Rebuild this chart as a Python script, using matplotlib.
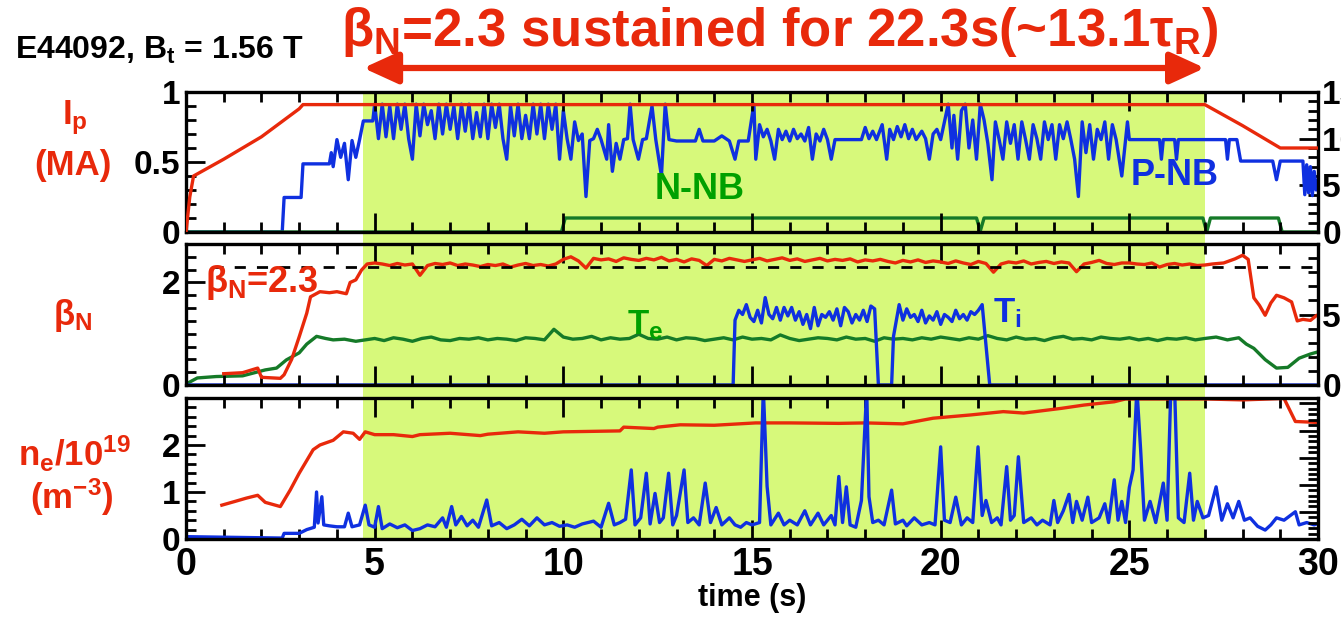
import numpy as np
import matplotlib
matplotlib.use("Agg")
import matplotlib.pyplot as plt
from matplotlib.patches import Rectangle
from matplotlib.transforms import blended_transform_factory
from matplotlib.ticker import MultipleLocator

plt.rcParams['font.family'] = ['Liberation Sans', 'DejaVu Sans']
plt.rcParams['font.weight'] = 'bold'
plt.rcParams['mathtext.fontset'] = 'custom'
for k in ('rm', 'it', 'bf', 'sf'):
    plt.rcParams['mathtext.' + k] = 'Liberation Sans:bold'

RED = '#e8290b'
BLUE = '#0f30e0'
GREEN_LINE = '#157a28'
GREEN_TXT = '#00a000'
SHADE = '#d7f97b'

# ---- panel 1: plasma current (MA) and beam powers (MW) ----
ip_t = [0.0, 0.1, 0.2, 0.6, 1.0, 1.5, 2.0, 2.5, 3.0, 3.1, 27.0, 28.0, 29.0, 30.0]
ip_v = [0.0, 0.25, 0.40, 0.46, 0.52, 0.60, 0.68, 0.78, 0.88, 0.91, 0.91, 0.76, 0.60, 0.60]

pnb_early_t = [0.0, 2.55, 2.6, 3.05, 3.1, 3.8, 3.85, 3.9, 4.0, 4.1, 4.2, 4.3, 4.4, 4.5, 4.6, 4.7, 4.95]
pnb_early_v = [0.0, 0.0, 3.7, 3.7, 7.3, 7.3, 8.5, 7.0, 9.9, 8.0, 9.5, 5.6, 9.8, 8.0, 9.9, 11.9, 11.9]
# 5.0 .. 9.9 s every 0.1 s
pnb_fast = [13.7, 10.0, 13.7, 10.2, 13.5, 10.0, 13.7, 11.0, 13.7, 10.0,
            7.8, 13.7, 10.3, 13.7, 11.5, 13.0, 10.0, 13.7, 10.5, 13.7,
            11.0, 13.5, 10.0, 13.7, 10.8, 13.7, 10.0, 12.8, 10.2, 13.7,
            10.0, 13.7, 11.2, 13.7, 10.0, 7.8, 13.5, 10.3, 13.7, 10.0,
            12.5, 10.0, 13.7, 10.5, 13.7, 10.0, 13.7, 11.0, 13.7, 7.8]
pnb_late_t = [10.0, 10.1, 10.2, 10.3, 10.4, 10.5, 10.6, 10.7, 10.8, 10.9, 11.0, 11.15, 11.2, 11.3,
              11.4, 11.5, 11.6, 11.7, 11.77, 11.85, 11.99, 12.1, 12.2, 12.35, 12.45, 12.6, 12.7,
              12.8, 13.0, 13.5, 13.6, 13.7, 14.0, 14.2, 14.4, 14.55, 14.65, 14.9, 15.05, 15.1,
              15.2, 15.3, 15.4, 15.5, 15.6, 15.7, 15.8, 15.9, 16.0, 16.1, 16.2, 16.3, 16.4, 16.5,
              16.6, 16.7, 16.8, 16.9, 17.0, 17.1, 17.2, 17.9, 18.0, 18.1, 18.2, 18.3, 18.45,
              18.57, 18.65, 18.75, 18.85, 18.95, 19.05, 19.15, 19.25, 19.35, 19.5, 19.6, 19.7,
              19.8, 19.9, 20.0, 20.1, 20.2, 20.3, 20.35, 20.45, 20.55, 20.65, 20.75, 20.85,
              20.95, 21.05, 21.15, 21.25, 21.36, 21.45, 21.55, 21.65, 21.75, 21.85, 21.95,
              22.05, 22.15, 22.25, 22.35, 22.45, 22.55, 22.65, 22.75, 22.85, 22.95, 23.05,
              23.15, 23.25, 23.35, 23.45, 23.55, 23.65, 23.75, 23.85, 23.95, 24.05, 24.15,
              24.25, 24.35, 24.45, 24.55, 24.65, 24.8, 24.95, 25.0, 25.8, 25.85, 25.9, 26.2,
              26.25, 26.3, 27.55, 27.6, 27.65, 27.85, 27.95, 28.8, 28.9, 29.0, 29.6, 29.65,
              29.7, 29.75, 29.8, 29.85, 29.9, 29.95, 30.0]
pnb_late_v = [13.0, 10.0, 7.8, 11.8, 9.8, 10.5, 3.8, 9.8, 10.0, 11.0, 9.9, 7.8, 11.5, 6.5,
              9.5, 7.8, 9.9, 10.0, 13.7, 9.9, 7.8, 9.9, 10.0, 13.5, 9.9, 6.0, 13.7,
              9.9, 9.75, 9.75, 11.0, 9.75, 9.75, 10.3, 9.75, 7.8, 9.75, 9.75, 13.7, 7.8,
              11.5, 10.2, 11.0, 9.75, 7.8, 11.0, 9.9, 10.8, 9.75, 11.0, 10.0, 10.5, 9.75, 11.2,
              7.8, 10.5, 9.75, 11.0, 9.9, 7.8, 9.9, 9.9, 11.2, 10.0, 10.8, 9.9, 11.5,
              7.8, 11.0, 9.9, 11.3, 10.2, 11.5, 10.0, 11.0, 9.9, 10.8, 10.0, 7.8,
              10.5, 11.0, 9.9, 11.8, 13.7, 9.0, 12.5, 7.8, 13.0, 13.7, 9.0, 12.0,
              7.8, 13.7, 12.0, 9.5, 5.6, 11.8, 9.9, 7.8, 11.8, 9.5, 11.5,
              7.8, 11.8, 9.9, 7.8, 11.5, 10.0, 7.8, 11.8, 9.9, 11.5, 7.8,
              11.5, 10.0, 11.8, 9.9, 7.8, 3.8, 11.8, 8.5, 11.5, 7.8, 11.0,
              9.9, 11.8, 7.8, 11.5, 9.9, 6.0, 11.8, 9.9, 9.9, 7.8, 9.9, 9.9,
              7.8, 9.9, 9.9, 7.8, 9.9, 9.9, 7.6, 7.6, 5.6, 7.6, 7.6, 4.0,
              7.2, 4.2, 7.0, 3.9, 6.5, 4.5, 5.5]

nnb_t = [0.0, 9.95, 10.05, 20.95, 21.05, 21.15, 26.95, 27.05, 27.15, 28.95, 29.05, 30.0]
nnb_v = [0.0, 0.0, 1.5, 1.5, 0.1, 1.5, 1.5, 0.0, 1.5, 1.5, 0.0, 0.0]

# ---- panel 2: beta_N and temperatures (keV) ----
bn_early_t = [1.0, 1.5, 1.9, 2.0, 2.5, 2.6, 2.8, 3.0, 3.2, 3.3, 3.55, 3.8, 4.0, 4.25, 4.35,
              4.5, 4.65, 4.8]
bn_early_v = [0.22, 0.24, 0.33, 0.15, 0.13, 0.20, 0.50, 0.94, 1.40, 1.72, 1.82, 1.80, 1.82,
              1.78, 2.00, 2.05, 2.24, 2.36]
# 5.0 .. 27.0 s every 0.2 s
bn_flat = [2.38, 2.36, 2.33, 2.37, 2.34, 2.36, 2.14, 2.33, 2.37, 2.35, 2.38, 2.33, 2.36, 2.34,
           2.31, 2.35, 2.33, 2.36, 2.30, 2.34, 2.37, 2.33, 2.35, 2.32, 2.36,
           2.45, 2.50, 2.42, 2.28, 2.47, 2.44, 2.46, 2.41, 2.48, 2.45, 2.43, 2.47, 2.44, 2.49,
           2.42, 2.45, 2.40, 2.46, 2.43, 2.33, 2.45, 2.42, 2.47, 2.44, 2.41,
           2.44, 2.47, 2.42, 2.45, 2.48, 2.43, 2.46, 2.41, 2.44, 2.47, 2.42, 2.45, 2.43, 2.46,
           2.40, 2.44, 2.42, 2.45, 2.41, 2.38, 2.43, 2.40, 2.44, 2.39, 2.42,
           2.40, 2.37, 2.42, 2.38, 2.35, 2.41, 2.37, 2.20, 2.36, 2.40, 2.38, 2.42, 2.36, 2.39,
           2.41, 2.37, 2.40, 2.38, 2.21, 2.36, 2.39, 2.43, 2.37, 2.35, 2.38,
           2.38, 2.36, 2.35, 2.38, 2.30, 2.35, 2.37, 2.34, 2.36, 2.33, 2.34]
bn_end_t = [27.2, 27.5, 27.8, 28.0, 28.15, 28.3, 28.45, 28.6, 28.75, 28.9, 29.1, 29.3, 29.45,
            29.6, 29.8, 29.95]
bn_end_v = [2.36, 2.38, 2.46, 2.53, 2.45, 1.70, 1.55, 1.36, 1.60, 1.75, 1.70, 1.62, 1.25,
            1.28, 1.26, 1.35]
bn_target = 2.3

te_early_t = [0.05, 0.3, 0.8, 1.5, 2.1, 2.4, 2.66, 3.0, 3.2, 3.46, 3.7, 3.9, 4.2, 4.5]
te_early_v = [0.14, 0.5, 0.6, 0.65, 1.07, 1.2, 1.78, 2.28, 2.9, 3.45, 3.3, 3.2, 3.25, 3.1]
# 4.75 .. 27.0 s every 0.25 s
te_flat = [3.20, 3.30, 3.15, 3.35, 3.25, 3.10, 3.30, 3.40, 3.20, 3.15, 3.30, 3.25, 3.35,
           3.20, 3.30, 3.25, 3.15, 3.35, 3.30, 3.20, 3.95, 3.40, 3.25, 3.30, 3.45, 3.20,
           3.35, 3.25, 3.30, 3.60, 3.30, 3.25, 3.40, 3.20, 3.35, 3.30, 3.15, 3.25, 3.35,
           3.20, 3.40, 3.25, 3.30, 3.20, 3.55, 3.30, 3.15, 3.25, 3.35, 3.30, 3.20, 3.40,
           3.25, 3.30, 3.10, 3.35, 3.25, 3.30, 3.20, 3.35, 3.25, 3.40, 3.30, 3.20, 3.35,
           3.25, 3.50, 3.30, 3.20, 3.40, 3.25, 3.30, 3.15, 3.35, 3.45, 3.25, 3.30, 3.20,
           3.40, 3.30, 3.25, 3.35, 3.20, 3.30, 3.15, 3.30, 3.25, 3.35, 3.20, 3.30]
te_end_t = [27.3, 27.6, 27.9, 28.1, 28.3, 28.6, 28.9, 29.2, 29.5, 29.8, 30.0]
te_end_v = [3.4, 3.2, 3.35, 2.9, 2.6, 1.8, 1.2, 1.25, 1.9, 2.2, 2.35]

# Ti: 14.55 .. 18.25 s every 0.1 s, then 19.0 .. 21.1 s every 0.1 s
ti_a = [4.6, 5.3, 5.0, 5.7, 4.8, 4.5, 5.3, 4.4, 6.2, 5.0, 4.7, 5.5, 4.6, 5.5, 4.9, 5.5,
        4.6, 5.2, 4.3, 5.0, 4.0, 5.5, 4.2, 5.0, 4.8, 5.2, 4.6, 5.4, 4.2, 5.5, 5.2, 4.4,
        5.0, 4.6, 5.3, 4.5, 5.6, 5.4]
ti_b = [4.6, 5.4, 4.8, 5.0, 4.5, 5.3, 4.4, 4.9, 4.6, 5.2, 4.3, 5.0, 4.8, 4.5, 5.3, 4.7,
        5.0, 4.6, 5.2, 5.0, 5.3, 5.7]

# ---- panel 3: density and blue trace ----
ne_t = [0.95, 1.3, 1.6, 1.9, 2.1, 2.5, 2.76, 3.0, 3.37, 3.55, 3.9, 4.17, 4.43, 4.6, 4.75,
        5.0, 5.5, 6.0, 6.2, 7.0, 7.8, 8.0, 8.8, 9.5, 10.0, 11.5, 11.6, 12.4, 12.5, 13.1,
        14.0, 15.1, 16.0, 17.3, 18.0, 19.0, 19.8, 20.8, 21.66, 22.2, 23.2, 23.8, 24.6, 24.9,
        27.0, 28.0, 29.1, 29.4, 30.0]
ne_v = [0.72, 0.80, 0.87, 0.93, 0.78, 0.69, 1.04, 1.40, 1.90, 2.00, 2.10, 2.28, 2.25, 2.12,
        2.28, 2.22, 2.22, 2.18, 2.22, 2.25, 2.20, 2.23, 2.28, 2.25, 2.28, 2.30, 2.38, 2.35,
        2.38, 2.43, 2.42, 2.47, 2.47, 2.46, 2.47, 2.45, 2.57, 2.64, 2.71, 2.68, 2.78, 2.85,
        2.92, 2.98, 2.98, 2.96, 2.99, 2.50, 2.48]

b3_t = [0.0, 2.55, 2.6, 3.0, 3.2, 3.4, 3.46, 3.5, 3.6, 3.65, 3.8, 4.0, 4.2, 4.3, 4.4, 4.6,
        4.75, 4.85, 5.0, 5.1, 5.2, 5.4, 5.6, 5.8, 6.0, 6.2, 6.4, 6.6, 6.8, 6.9, 7.04, 7.15,
        7.3, 7.45, 7.6, 7.75, 7.97, 8.1, 8.3, 8.5, 8.7, 8.9, 9.1, 9.3, 9.5, 9.7, 9.9, 10.1,
        10.3, 10.5, 10.8, 11.0, 11.2, 11.35, 11.5, 11.65, 11.8, 11.9, 12.05, 12.2, 12.3,
        12.43, 12.55, 12.65, 12.79, 12.9, 13.0, 13.2, 13.3, 13.45, 13.6, 13.76, 13.9, 14.05,
        14.2, 14.4, 14.55, 14.7, 14.85, 15.0, 15.2, 15.3, 15.4, 15.5, 15.7, 15.85, 16.0,
        16.2, 16.4, 16.55, 16.75, 16.9, 17.1, 17.2, 17.3, 17.4, 17.5, 17.6, 17.75, 17.9,
        18.04, 18.1, 18.2, 18.35, 18.5, 18.7, 18.8, 19.0, 19.1, 19.3, 19.5, 19.7, 19.85,
        20.0, 20.1, 20.25, 20.4, 20.55, 20.7, 20.85, 20.99, 21.1, 21.2, 21.35, 21.5, 21.6,
        21.75, 21.85, 21.95, 22.06, 22.2, 22.4, 22.55, 22.7, 22.9, 23.0, 23.1, 23.25, 23.4,
        23.5, 23.6, 23.75, 23.9, 24.0, 24.2, 24.35, 24.45, 24.6, 24.7, 24.8, 24.9, 25.0,
        25.1, 25.2, 25.3, 25.4, 25.55, 25.7, 25.9, 26.0, 26.1, 26.2, 26.3, 26.45, 26.6,
        26.7, 26.8, 26.95, 27.1, 27.3, 27.45, 27.6, 27.75, 27.9, 28.05, 28.2, 28.4, 28.6,
        28.75, 28.9, 29.1, 29.4, 29.5, 29.7, 29.9, 30.0]
b3_v = [0.05, 0.02, 0.12, 0.12, 0.20, 0.25, 1.00, 0.34, 0.90, 0.30, 0.28, 0.26, 0.26, 0.55,
        0.26, 0.30, 0.72, 0.30, 0.25, 0.69, 0.22, 0.32, 0.24, 0.30, 0.18, 0.22, 0.30, 0.26,
        0.45, 0.25, 0.69, 0.30, 0.48, 0.28, 0.40, 0.25, 0.83, 0.28, 0.35, 0.22, 0.30, 0.42,
        0.28, 0.45, 0.30, 0.35, 0.27, 0.30, 0.25, 0.32, 0.38, 0.25, 0.76, 0.30, 0.35, 0.42,
        1.47, 0.30, 0.45, 1.40, 0.32, 0.97, 0.35, 0.45, 1.40, 0.30, 0.50, 1.47, 0.35, 0.45,
        0.30, 1.19, 0.35, 0.67, 0.30, 0.45, 0.30, 0.25, 0.35, 0.30, 0.35, 3.20, 1.12, 0.30,
        0.55, 0.30, 0.40, 0.30, 0.60, 0.30, 0.55, 0.30, 0.50, 0.30, 1.33, 0.35, 1.11, 0.30,
        0.25, 0.82, 3.20, 0.90, 0.35, 0.40, 0.30, 1.04, 0.32, 0.40, 0.28, 0.45, 0.30, 0.35,
        0.30, 1.96, 0.40, 0.35, 0.89, 0.30, 0.45, 0.35, 1.96, 0.50, 0.82, 0.35, 0.45, 0.30,
        1.54, 0.40, 0.50, 1.75, 0.35, 0.45, 0.30, 0.40, 0.30, 0.82, 0.35, 0.60, 0.95, 0.35,
        0.80, 0.40, 0.89, 0.35, 0.45, 0.75, 0.35, 1.26, 0.40, 0.80, 0.35, 1.10, 1.47, 3.20,
        1.89, 0.40, 0.80, 0.35, 1.19, 0.40, 3.20, 3.20, 0.45, 0.35, 1.40, 0.40, 0.80, 0.45,
        0.50, 1.11, 0.40, 0.75, 0.45, 0.80, 0.40, 0.45, 0.27, 0.19, 0.30, 0.45, 0.40, 0.58,
        0.30, 0.35, 0.30, 0.33]

flat_start, flat_end = 4.7, 27.0
xticks = [0, 5, 10, 15, 20, 25, 30]

# assemble sampled segments
pnb_t = pnb_early_t + list(5.0 + 0.1 * np.arange(len(pnb_fast))) + pnb_late_t
pnb_v = pnb_early_v + pnb_fast + pnb_late_v
bn_t = bn_early_t + list(5.0 + 0.2 * np.arange(len(bn_flat))) + bn_end_t
bn_v = bn_early_v + bn_flat + bn_end_v
te_t = te_early_t + list(4.75 + 0.25 * np.arange(len(te_flat))) + te_end_t
te_v = te_early_v + te_flat + te_end_v
ti_t = ([0.0, 14.5] + list(14.55 + 0.1 * np.arange(len(ti_a))) + [18.35, 18.7, 18.75, 18.9]
        + list(19.0 + 0.1 * np.arange(len(ti_b))) + [21.3, 30.0])
ti_v = [0.0, 0.0] + ti_a + [0.0, 0.0, 3.45, 5.7] + ti_b + [0.0, 0.0]

fig = plt.figure(figsize=(13.41, 6.26), dpi=100)
W, H = 1341.0, 626.0
left, width = 186 / W, 1132 / W
ax1 = fig.add_axes([left, 1 - 232 / H, width, 140 / H])
ax2 = fig.add_axes([left, 1 - 385 / H, width, 141 / H])
ax3 = fig.add_axes([left, 1 - 539 / H, width, 141 / H])

# flat-top band behind all three panels
tr = blended_transform_factory(ax3.transData, fig.transFigure)
fig.add_artist(Rectangle((flat_start, 1 - 539 / H), flat_end - flat_start, 447 / H,
                         transform=tr, facecolor=SHADE, edgecolor='none', zorder=-5))

lw = 2.4
ax1r = ax1.twinx()
ax1r.plot(pnb_t, pnb_v, color=BLUE, lw=lw)
ax1r.plot(nnb_t, nnb_v, color=GREEN_LINE, lw=lw)
ax1.plot(ip_t, ip_v, color=RED, lw=lw, zorder=5)
ax1.set_zorder(ax1r.get_zorder() + 1)

ax2r = ax2.twinx()
ax2r.plot(te_t, te_v, color=GREEN_LINE, lw=lw)
ax2r.plot(ti_t, ti_v, color=BLUE, lw=lw)
ax2.plot(bn_t, bn_v, color=RED, lw=lw)
ax2.plot([0.7, 30], [bn_target, bn_target], color='black', lw=2, ls=(0, (4, 4)))
ax2.set_zorder(ax2r.get_zorder() + 1)

ax3r = ax3.twinx()
ax3.plot(ne_t, ne_v, color=RED, lw=lw)
ax3.plot(b3_t, b3_v, color=BLUE, lw=lw)

for ax in (ax1, ax2, ax3):
    ax.set_facecolor('none')
    ax.set_xlim(0, 30)
    ax.set_xticks(xticks)
    ax.xaxis.set_minor_locator(MultipleLocator(1))
    ax.tick_params(which='both', direction='in', top=True, right=False, width=2)
    ax.tick_params(which='major', length=14, labelsize=24, pad=4)
    ax.tick_params(which='minor', length=7)
    for s in ax.spines.values():
        s.set_linewidth(2.4)
for ax in (ax1r, ax2r, ax3r):
    ax.tick_params(which='both', direction='in', width=2)
    ax.tick_params(which='major', length=14, labelsize=24, pad=3)
    ax.tick_params(which='minor', length=7)

ax1.tick_params(labelbottom=False)
ax2.tick_params(labelbottom=False)
ax3.tick_params(axis='x', labelsize=27, pad=6)

ax1.set_ylim(0, 1)
ax1.set_yticks([0, 0.5, 1])
ax1.set_yticklabels(['0', '0.5', '1'])
ax1.yaxis.set_minor_locator(MultipleLocator(0.1))
ax1r.set_ylim(0, 15)
ax1r.set_yticks([0, 5, 10, 15])
ax1r.yaxis.set_minor_locator(MultipleLocator(1))

ax2.set_ylim(0, 2.75)
ax2.set_yticks([0, 2])
ax2.yaxis.set_minor_locator(MultipleLocator(0.25))
ax2r.set_ylim(0, 10)
ax2r.set_yticks([0, 5])
ax2r.yaxis.set_minor_locator(MultipleLocator(1))

ax3.set_ylim(0, 3)
ax3.set_yticks([0, 1, 2])
ax3.yaxis.set_minor_locator(MultipleLocator(0.2))
ax3r.set_ylim(0, 5.2)
ax3r.set_yticks([0, 1, 2, 3, 4, 5])
ax3r.yaxis.set_minor_locator(MultipleLocator(0.2))
ax3r.tick_params(labelright=False)

ax3.set_xlabel('time (s)', fontsize=22, fontweight='bold', labelpad=0)

# in-panel labels
ax1.text(13.6, 0.30, 'N-NB', color=GREEN_TXT, fontsize=26, ha='center', va='center', zorder=6)
ax1.text(26.2, 0.40, 'P-NB', color=BLUE, fontsize=26, ha='center', va='center', zorder=6)
ax2.text(0.5, 2.0, r'β$_{N}$=2.3', color=RED, fontsize=26, ha='left', va='center')
ax2.text(11.7, 1.17, r'T$_{e}$', color=GREEN_TXT, fontsize=25, ha='left', va='center')
ax2.text(21.4, 1.40, r'T$_{i}$', color=BLUE, fontsize=25, ha='left', va='center')

# axis titles on the left
fig.text(75 / W, 1 - 118 / H, r'I$_{p}$', color=RED, fontsize=25, ha='center', va='center')
fig.text(73 / W, 1 - 166 / H, '(MA)', color=RED, fontsize=25, ha='center', va='center')
fig.text(73 / W, 1 - 316 / H, r'β$_{N}$', color=RED, fontsize=25, ha='center', va='center')
fig.text(74 / W, 1 - 454 / H, r'n$_{e}$/10$^{19}$', color=RED, fontsize=25, ha='center', va='center')
fig.text(72 / W, 1 - 497 / H, r'(m$^{-3}$)', color=RED, fontsize=25, ha='center', va='center')

# header
fig.text(15 / W, 1 - 50 / H, r'E44092, B$_{t}$ = 1.56 T', color='black', fontsize=23,
         ha='left', va='center')
fig.text(780 / W, 1 - 32 / H, r'β$_{N}$=2.3 sustained for 22.3s(~13.1τ$_{R}$)', color=RED,
         fontsize=38, ha='center', va='center')
trh = blended_transform_factory(ax1.transData, fig.transFigure)
ax1.annotate('', xy=(flat_start, 1 - 68 / H), xytext=(flat_end, 1 - 68 / H),
             xycoords=trh, textcoords=trh, annotation_clip=False,
             arrowprops=dict(arrowstyle='<|-|>,head_length=0.7,head_width=0.32',
                             color=RED, lw=4.5, mutation_scale=30, shrinkA=0, shrinkB=0))

fig.savefig('out.png', dpi=100)
